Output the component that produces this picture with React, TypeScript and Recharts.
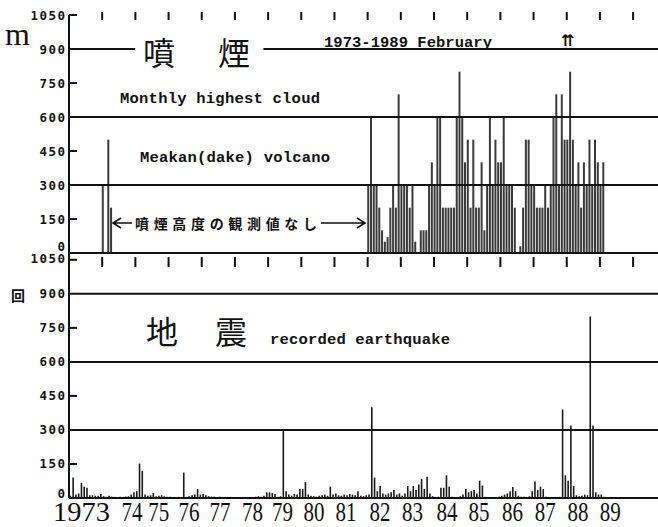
import React from 'react';
import { BarChart, Bar, XAxis, YAxis, ReferenceLine } from 'recharts';

// ---------- axis / label data ----------
const yTicks = [0, 150, 300, 450, 600, 750, 900, 1050];
const gridLevels = [300, 600, 900];
const shortTickLevels = [150, 450, 750, 1050];
const tickYears = [1974, 1975, 1976, 1977, 1978, 1979, 1980, 1981, 1982, 1983, 1984, 1985, 1986, 1987, 1988, 1989, 1990];
const yearLabels = ['1973', '74', '75', '76', '77', '78', '79', '80', '81', '82', '83', '84', '85', '86', '87', '88', '89'];
const yearLabelMonths = [4.5, 22.8, 32.5, 43.4, 54.6, 66.4, 77.2, 88.6, 100.2, 112.5, 124.2, 136.7, 148.3, 160.4, 172.2, 184.1, 195.7];

// ---------- monthly highest cloud (m) ----------
const cloud1974 = [300, 0, 500, 200]; // Jan-Apr 1974
const cloud1982 = [300, 600, 300, 300, 200, 100, 50, 70, 200, 300, 200, 700];
const cloud1983 = [300, 300, 300, 200, 300, 50, 0, 100, 100, 100, 300, 400];
const cloud1984 = [300, 600, 600, 200, 200, 200, 200, 200, 600, 800, 600, 400];
const cloud1985 = [500, 200, 500, 200, 200, 400, 100, 300, 600, 300, 500, 400];
const cloud1986 = [400, 600, 300, 300, 300, 200, 0, 30, 200, 500, 500, 300];
const cloud1987 = [300, 200, 200, 200, 300, 200, 300, 600, 700, 300, 700, 500];
const cloud1988 = [500, 800, 500, 300, 400, 200, 400, 300, 500, 300, 500, 400];
const cloud1989 = [300, 400];

// ---------- monthly recorded earthquakes ----------
const eq1973 = [10, 90, 15, 20, 67, 50, 45, 12, 12, 10, 10, 18];
const eq1974 = [8, 5, 10, 6, 5, 4, 5, 3, 6, 8, 15, 25];
const eq1975 = [30, 152, 120, 15, 10, 12, 22, 8, 10, 12, 8, 6];
const eq1976 = [5, 3, 4, 5, 3, 112, 5, 8, 12, 15, 40, 15];
const eq1977 = [18, 12, 8, 6, 5, 4, 6, 3, 5, 4, 3, 2];
const eq1978 = [3, 2, 4, 3, 2, 3, 4, 5, 8, 6, 10, 25];
const eq1979 = [25, 22, 18, 5, 8, 300, 30, 15, 10, 18, 15, 40];
const eq1980 = [40, 70, 15, 10, 8, 6, 10, 12, 15, 10, 50, 15];
const eq1981 = [20, 12, 10, 15, 12, 18, 15, 12, 30, 10, 8, 12];
const eq1982 = [15, 400, 90, 30, 53, 20, 15, 20, 25, 35, 15, 20];
const eq1983 = [10, 20, 53, 30, 53, 35, 60, 84, 40, 94, 20, 8];
const eq1984 = [5, 5, 45, 45, 100, 50, 5, 3, 5, 8, 15, 40];
const eq1985 = [25, 30, 35, 20, 76, 55, 5, 3, 4, 2, 3, 5];
const eq1986 = [10, 15, 20, 30, 49, 30, 10, 5, 5, 3, 8, 30];
const eq1987 = [73, 35, 50, 40, 5, 3, 2, 4, 3, 5, 390, 100];
const eq1988 = [76, 320, 53, 12, 8, 10, 15, 12, 800, 320, 25, 15];
const eq1989 = [15, 5];

const cloudSeries: [number, number[]][] = [
  [1974, cloud1974], [1982, cloud1982], [1983, cloud1983], [1984, cloud1984], [1985, cloud1985],
  [1986, cloud1986], [1987, cloud1987], [1988, cloud1988], [1989, cloud1989],
];
const eqSeries: [number, number[]][] = [
  [1973, eq1973], [1974, eq1974], [1975, eq1975], [1976, eq1976], [1977, eq1977], [1978, eq1978],
  [1979, eq1979], [1980, eq1980], [1981, eq1981], [1982, eq1982], [1983, eq1983], [1984, eq1984],
  [1985, eq1985], [1986, eq1986], [1987, eq1987], [1988, eq1988], [1989, eq1989],
];

const toRows = (series: [number, number[]][]) =>
  series.flatMap(([yr, vals]) => vals.map((v, i) => ({ t: (yr - 1973) * 12 + i + 0.35, v })));

const cloudData = toRows(cloudSeries);
const eqData = toRows(eqSeries);
const yearTickMonths = tickYears.map((y) => (y - 1973) * 12);

const X_DOMAIN: [number, number] = [0, 213];
const INK = '#111';

const makeYTick = (panel: 'top' | 'bottom') => (props: any) => {
  const { x, y, payload } = props;
  const v = payload.value;
  const axisX = x + 4;
  let dy = 4.5;
  if (panel === 'top' && v === 0) dy = -2;
  if (panel === 'bottom' && v === 1050) dy = 3;
  if (panel === 'bottom' && v === 0) dy = -0.5;
  const short = shortTickLevels.includes(v);
  return (
    <g>
      <text x={x + 1.5} y={y + dy} textAnchor="end" fontFamily="DejaVu Sans Mono" fontWeight="bold"
        fontSize={12.5} letterSpacing={1.5} fill={INK}>{v}</text>
      {short ? <line x1={axisX} x2={axisX + 8} y1={y} y2={y} stroke={INK} strokeWidth={2} /> : null}
    </g>
  );
};

const YearLabel = (props: any) => {
  const { x, y, index } = props;
  const label = yearLabels[index] ?? '';
  const w = label.length === 4 ? 57 : 21;
  return (
    <text x={x} y={y + 23} textAnchor="middle" fontFamily="Liberation Serif" fontSize={28}
      textLength={w} lengthAdjust="spacingAndGlyphs" fill={INK}>{label}</text>
  );
};

const monoText = { fontFamily: 'Liberation Mono', fontWeight: 'bold' as const, fontSize: 15.5, fill: INK };

export default function App() {
  return (
    <div style={{ position: 'absolute', left: 0, top: 0, width: 658, height: 527, background: '#fff', overflow: 'hidden' }}>
      {/* top panel: 噴煙 */}
      <div style={{ position: 'absolute', left: 0, top: 0 }}>
        <BarChart width={658} height={258} data={cloudData} margin={{ top: 15, right: 0, bottom: 5, left: 0 }}>
          <XAxis type="number" dataKey="t" domain={X_DOMAIN} hide />
          <YAxis type="number" domain={[0, 1050]} ticks={yTicks} width={69} interval={0}
            axisLine={{ stroke: INK, strokeWidth: 2 }} tickLine={false} tickSize={0} tickMargin={4}
            tick={makeYTick('top')} />
          {yearTickMonths.map((m) => (
            <ReferenceLine key={'tm' + m} ifOverflow="visible"
              segment={[{ x: m, y: 1028 }, { x: m, y: 1063 }]} stroke={INK} strokeWidth={2} />
          ))}
          <ReferenceLine y={600} stroke={INK} strokeWidth={2} />
          <ReferenceLine y={300} stroke={INK} strokeWidth={2} />
          <ReferenceLine segment={[{ x: 0, y: 900 }, { x: 23.9, y: 900 }]} stroke={INK} strokeWidth={2} />
          <ReferenceLine segment={[{ x: 70.3, y: 900 }, { x: 213, y: 900 }]} stroke={INK} strokeWidth={2} />
          <ReferenceLine y={0} stroke={INK} strokeWidth={2} />
          <Bar dataKey="v" fill="#3a3a3a" barSize={2} isAnimationActive={false} />
        </BarChart>
      </div>

      {/* bottom panel: 地震 */}
      <div style={{ position: 'absolute', left: 0, top: 245 }}>
        <BarChart width={658} height={282} data={eqData} margin={{ top: 8, right: 0, bottom: 0, left: 0 }}>
          <XAxis type="number" dataKey="t" domain={X_DOMAIN}
            ticks={yearLabelMonths} height={29} axisLine={false} tickLine={false} tickSize={0}
            tickMargin={0} interval={0} tick={<YearLabel />} />
          <YAxis type="number" domain={[0, 1080]} ticks={yTicks} width={69} interval={0}
            axisLine={{ stroke: INK, strokeWidth: 2 }} tickLine={false} tickSize={0} tickMargin={4}
            tick={makeYTick('bottom')} />
          {yearTickMonths.map((m) => (
            <ReferenceLine key={'bm' + m} ifOverflow="visible"
              segment={[{ x: m, y: 1018 }, { x: m, y: 1062 }]} stroke={INK} strokeWidth={2} />
          ))}
          {gridLevels.map((g) => (
            <ReferenceLine key={g} y={g} stroke={INK} strokeWidth={2} />
          ))}
          <ReferenceLine y={0} stroke={INK} strokeWidth={2} />
          <Bar dataKey="v" fill="#1a1a1a" barSize={1.6} isAnimationActive={false} />
        </BarChart>
      </div>

      {/* annotations */}
      <svg width={658} height={527} style={{ position: 'absolute', left: 0, top: 0, pointerEvents: 'none' }}>
        <text x={5} y={45} fontFamily="Liberation Serif" fontSize={32} fill={INK}>m</text>
        <text x={143} y={65} fontFamily="Noto Sans CJK JP" fontSize={32} fill={INK}>噴</text>
        <text x={218} y={65} fontFamily="Noto Sans CJK JP" fontSize={32} fill={INK}>煙</text>
        <text x={324} y={47} {...monoText} textLength={168}>1973-1989 February</text>
        <text x={568} y={46} textAnchor="middle" fontFamily="DejaVu Sans" fontWeight="bold" fontSize={16} fill={INK}>⇈</text>
        <text x={120} y={103} {...monoText} textLength={200}>Monthly highest cloud</text>
        <text x={140} y={162} {...monoText} textLength={190}>Meakan(dake) volcano</text>
        <path d="M132 223 H114 M121 218 L113 223 L121 228" stroke={INK} strokeWidth={1.6} fill="none" />
        <text x={135} y={229} fontFamily="Noto Sans CJK JP" fontWeight="bold" fontSize={14} fill={INK}
          textLength={182}>噴煙高度の観測値なし</text>
        <path d="M321 223 H365 M357 218 L365 223 L357 228" stroke={INK} strokeWidth={1.6} fill="none" />
        <text x={11} y={301} fontFamily="Noto Sans CJK JP" fontWeight="bold" fontSize={14} fill={INK}>回</text>
        <text x={146} y={344} fontFamily="Noto Sans CJK JP" fontSize={32} fill={INK}>地</text>
        <text x={215} y={344} fontFamily="Noto Sans CJK JP" fontSize={32} fill={INK}>震</text>
        <text x={270} y={344} {...monoText} textLength={180}>recorded earthquake</text>
      </svg>
    </div>
  );
}
